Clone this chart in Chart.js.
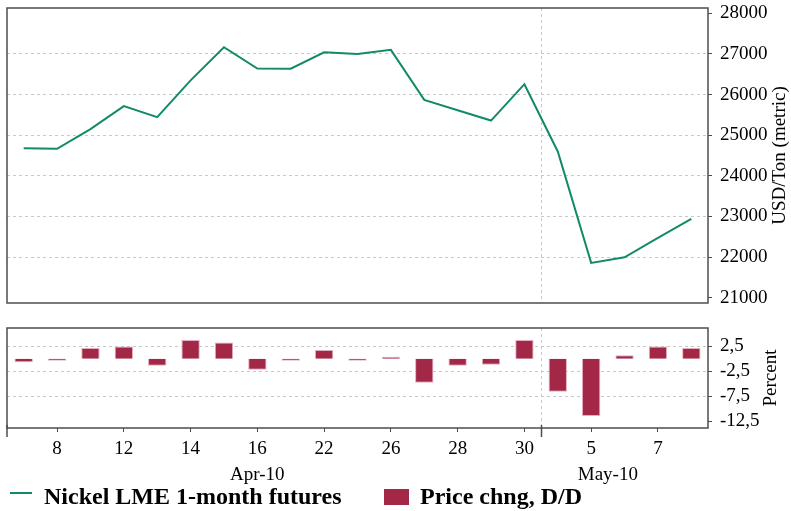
<!DOCTYPE html>
<html>
<head>
<meta charset="utf-8">
<script src="https://cdn.jsdelivr.net/npm/chart.js@4"></script>
<style>
body { margin: 0; background: #fff; }
#wrap { position: relative; width: 791px; height: 511px; font-family: 'Liberation Serif', serif; }
#top { position: absolute; left: 0; top: 0; }
#bot { position: absolute; left: 0; top: 315px; }
.lg { position: absolute; font-weight: bold; font-size: 24px; line-height: 24px; color: #000; white-space: nowrap; }
</style>
</head>
<body>
<div id="wrap">
  <canvas id="top" width="791" height="315"></canvas>
  <canvas id="bot" width="791" height="196"></canvas>
  <div style="position:absolute;left:10px;top:492px;width:22px;height:2px;background:#128a6a"></div>
  <div class="lg" style="left:44px;top:484px">Nickel LME 1-month futures</div>
  <div style="position:absolute;left:384px;top:489px;width:25px;height:16px;background:#a32747"></div>
  <div class="lg" style="left:420px;top:484px">Price chng, D/D</div>
</div>
<script>
// trading days, Apr 7 - May 10 2010
const days = ['7', '8', '9', '12', '13', '14', '15', '16', '20', '22', '23', '26', '27', '28', '29', '30', '4', '5', '6', '7', '10'];
const months = ['Apr-10', 'May-10'];
const monthStart = [0, 16];

// Nickel LME 1-month futures, USD/ton
const nickel = [24680, 24665, 25150, 25715, 25445, 26350, 27165, 26640, 26635, 27040, 27000,
                27100, 25870, 25615, 25360, 26255, 24600, 21857, 21995, 22470, 22940];
// day on day change, %
const change = [-0.7, -0.1, 2.1, 2.4, -1.4, 3.7, 3.2, -2.2, -0.1, 1.7, -0.4,
                0.4, -4.8, -1.4, -1.2, 3.7, -6.6, -11.4, 0.7, 2.4, 2.1];

const priceTicks = [21000, 22000, 23000, 24000, 25000, 26000, 27000, 28000];
const pctTicks = [2.5, -2.5, -7.5, -12.5];

const GREEN = '#128a6a';
const RED = '#a32747';
const GRID = '#c8c8c8';
const FRAME = '#4d4d4d';
const FONT = { family: 'Liberation Serif', size: 19 };

Chart.defaults.font.family = 'Liberation Serif';
Chart.defaults.color = '#000';

const decor = {
  id: 'decor',
  beforeDatasetsDraw(chart) {
    const { ctx, chartArea: a, scales: { x } } = chart;
    ctx.save();
    ctx.strokeStyle = GRID;
    ctx.lineWidth = 1;
    ctx.setLineDash([3, 3]);
    monthStart.slice(1).forEach(i => {
      const px = Math.round((x.getPixelForValue(i - 1) + x.getPixelForValue(i)) / 2) + 0.5;
      ctx.beginPath();
      ctx.moveTo(px, a.top);
      ctx.lineTo(px, a.bottom);
      ctx.stroke();
    });
    ctx.restore();
  },
  afterDraw(chart, args, opts) {
    const { ctx, chartArea: a, scales: { x } } = chart;
    ctx.save();
    ctx.strokeStyle = FRAME;
    ctx.lineWidth = 1.5;
    ctx.strokeRect(a.left, a.top, a.right - a.left, a.bottom - a.top);

    if (opts.months) {
      // long ticks at month boundaries + month names
      monthStart.forEach((i, k) => {
        const px = i === 0 ? a.left : Math.round((x.getPixelForValue(i - 1) + x.getPixelForValue(i)) / 2) + 0.5;
        ctx.beginPath();
        ctx.moveTo(px, a.bottom - 3);
        ctx.lineTo(px, a.bottom + 9);
        ctx.stroke();
        ctx.fillStyle = '#000';
        ctx.font = '19px "Liberation Serif"';
        ctx.textAlign = 'center';
        ctx.textBaseline = 'middle';
        ctx.fillText(months[k], x.getPixelForValue(opts.months[k]), a.bottom + 47);
      });
    }

    ctx.translate(opts.titleX, (a.top + a.bottom) / 2);
    ctx.rotate(-Math.PI / 2);
    ctx.fillStyle = '#000';
    ctx.font = '19px "Liberation Serif"';
    ctx.textAlign = 'center';
    ctx.textBaseline = 'middle';
    ctx.fillText(opts.title, 0, 0);
    ctx.restore();
  }
};

function fixAxis(w, h) {
  return s => {
    if (w !== undefined) s.width = w;
    if (h !== undefined) s.height = h;
    s.paddingTop = 0; s.paddingBottom = 0; s.paddingLeft = 0; s.paddingRight = 0;
  };
}

new Chart(document.getElementById('top').getContext('2d'), {
  type: 'line',
  data: {
    labels: days,
    datasets: [{
      label: 'Nickel LME 1-month futures',
      data: nickel,
      borderColor: GREEN,
      borderWidth: 2,
      pointRadius: 0,
      tension: 0,
      fill: false
    }]
  },
  options: {
    responsive: false,
    devicePixelRatio: 1,
    animation: false,
    layout: { padding: { left: 7, top: 8, right: 0, bottom: 12 } },
    plugins: {
      legend: { display: false },
      tooltip: { enabled: false },
      decor: { title: 'USD/Ton (metric)', titleX: 780 }
    },
    scales: {
      x: { type: 'category', offset: true, display: false },
      y: {
        position: 'right',
        min: 20870,
        max: 28130,
        afterBuildTicks: s => { s.ticks = priceTicks.map(v => ({ value: v })); },
        afterFit: fixAxis(83),
        ticks: { font: FONT, color: '#000', padding: 8, callback: v => String(v) },
        grid: {
          color: c => (c.tick && (c.tick.value === 21000 || c.tick.value === 28000)) ? 'rgba(0,0,0,0)' : GRID,
          tickColor: FRAME,
          tickLength: 4,
          lineWidth: 1
        },
        border: { display: false, dash: [3, 3] }
      }
    }
  },
  plugins: [decor]
});

new Chart(document.getElementById('bot').getContext('2d'), {
  type: 'bar',
  data: {
    labels: days,
    datasets: [{
      label: 'Price chng, D/D',
      data: change,
      backgroundColor: RED,
      borderColor: '#e3aebd',
      borderWidth: 1,
      minBarLength: 2,
      barPercentage: 0.55,
      categoryPercentage: 1
    }]
  },
  options: {
    responsive: false,
    devicePixelRatio: 1,
    animation: false,
    layout: { padding: { left: 7, top: 13, right: 0, bottom: 0 } },
    plugins: {
      legend: { display: false },
      tooltip: { enabled: false },
      decor: { title: 'Percent', titleX: 771, months: [7, 17.5] }
    },
    scales: {
      x: {
        type: 'category',
        offset: true,
        afterFit: fixAxis(undefined, 83),
        ticks: {
          autoSkip: false,
          maxRotation: 0,
          font: FONT,
          color: '#000',
          padding: 6,
          callback: (v, i) => (i % 2 ? days[i] : '')
        },
        grid: {
          offset: false,
          drawOnChartArea: false,
          tickLength: 4,
          tickColor: c => (c.index % 2 ? FRAME : 'rgba(0,0,0,0)')
        },
        border: { display: false }
      },
      y: {
        position: 'right',
        min: -13.8,
        max: 6.1,
        afterBuildTicks: s => { s.ticks = pctTicks.map(v => ({ value: v })); },
        afterFit: fixAxis(83),
        ticks: {
          font: FONT,
          color: '#000',
          padding: 8,
          callback: v => v.toFixed(1).replace('.', ',')
        },
        grid: {
          color: c => (c.tick && c.tick.value === -12.5) ? 'rgba(0,0,0,0)' : GRID,
          tickColor: FRAME,
          tickLength: 4,
          lineWidth: 1
        },
        border: { display: false, dash: [3, 3] }
      }
    }
  },
  plugins: [decor]
});
</script>
</body>
</html>
